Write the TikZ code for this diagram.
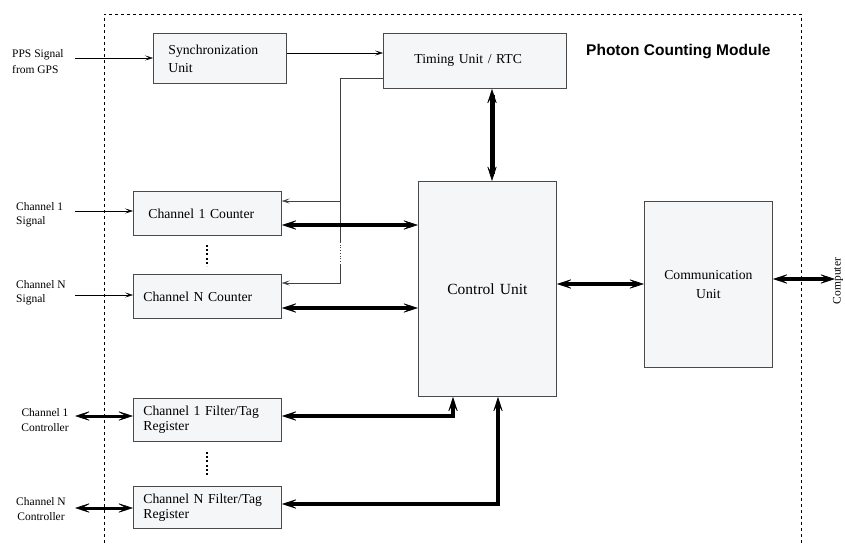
\documentclass[tikz,border=0pt]{standalone}
\usepackage{fontspec}
\setmainfont{Liberation Serif}
\newfontfamily\headfont{Liberation Sans}
\usetikzlibrary{arrows.meta,calc}
\definecolor{boxfill}{HTML}{F5F6F8}
\definecolor{boxline}{HTML}{4A4A4A}
\tikzset{
  bigtip/.tip={Stealth[length=17pt,width=11pt,inset=10pt,line width=0.6pt]},
  smalltip/.tip={Stealth[length=8pt,width=5pt,inset=4pt,line width=0.4pt]},
  box/.style={draw=boxline,fill=boxfill,line width=0.8pt,inner ysep=0pt,anchor=north west,align=left,
    font=\fontsize{13.7}{18}\selectfont},
  lbl/.style={font=\fontsize{11.5}{15}\selectfont,inner sep=0pt},
  sig/.style={line width=0.7pt,-smalltip},
  feed/.style={line width=0.7pt,draw=black!75},
  bus/.style={line width=4pt,bigtip-bigtip},
  ctl/.style={line width=3pt,bigtip-bigtip},
  vdots/.style={line width=1.6pt,dash pattern=on 2pt off 2.2pt},
  frame/.style={line width=0.7pt,dash pattern=on 3pt off 3pt}
}
\begin{document}
\begin{tikzpicture}[x=1pt,y=-1pt]
\useasboundingbox (0,0) rectangle (845,543);

% module frame
\draw[frame] (104,543) -- (104,14) -- (801,14) -- (801,543);
\node[font=\headfont\bfseries\fontsize{15.5}{18}\selectfont,anchor=west,inner sep=0pt] (title) at (586,52) {Photon Counting Module};

% boxes
\node[box,minimum height=50pt,text width=103pt,inner xsep=15pt] (sync) at (153,33) {Synchronization\\Unit};
\node[box,minimum height=55pt,text width=121pt,inner xsep=31pt] (timing) at (383,33) {Timing Unit / RTC};
\node[box,minimum height=44pt,text width=118pt,inner xsep=15pt] (ch1) at (133,191) {Channel 1 Counter};
\node[box,minimum height=44pt,text width=128pt,inner xsep=10pt] (chN) at (133,274) {Channel N Counter};
\node[box,minimum height=43pt,text width=128pt,inner xsep=10pt,font=\fontsize{13.7}{15}\selectfont] (f1) at (133,398) {Channel 1 Filter/Tag\\Register};
\node[box,minimum height=42pt,text width=128pt,inner xsep=10pt,font=\fontsize{13.7}{15}\selectfont] (fN) at (133,486) {Channel N Filter/Tag\\Register};
\node[box,align=center,minimum height=215pt,text width=138pt,inner xsep=0pt,font=\fontsize{15.5}{18}\selectfont] (control) at (418,181) {Control Unit};
\node[box,align=center,minimum height=166pt,text width=128pt,inner xsep=0pt,font=\fontsize{13.7}{19}\selectfont] (comm) at (644,201) {Communication\\Unit};

% outside labels
\node[lbl,anchor=west,align=left,font=\fontsize{11.5}{16}\selectfont] (pps) at (12,62) {PPS Signal\\from GPS};
\node[lbl,anchor=west,align=left,font=\fontsize{11.5}{14}\selectfont] (c1s) at (16,215) {Channel 1\\Signal};
\node[lbl,anchor=west,align=left,font=\fontsize{11.5}{14}\selectfont] (cNs) at (16,292.5) {Channel N\\Signal};
\node[lbl,align=center] (c1c) at (45,420.5) {Channel 1\\Controller};
\node[lbl,align=center] (cNc) at (41,509.5) {Channel N\\Controller};
\node[lbl,rotate=90] (comp) at (838,281) {Computer};

% coordinates for free ends and bends
\coordinate (ppsin) at (75,58);
\coordinate (s1in) at (75,211);
\coordinate (sNin) at (75,295);
\coordinate (k1) at (75,416);
\coordinate (kN) at (75,508);
\coordinate (st) at (0,53);
\coordinate (tx) at (340,78);
\coordinate (g1) at (340,242);
\coordinate (g2) at (340,265);
\coordinate (a1) at (340,201);
\coordinate (aN) at (340,283);
\coordinate (b1) at (0,225);
\coordinate (bN) at (0,308);
\coordinate (bc) at (0,284);
\coordinate (bo) at (835,279);
\coordinate (tcx) at (492,0);
\coordinate (f1c) at (453,416);
\coordinate (fNc) at (498,504);

% thin signal connectors
\draw[sig] (ppsin) -- (ppsin -| sync.west);
\draw[sig] (st -| sync.east) -- (st -| timing.west);
\draw[sig] (s1in) -- (s1in -| ch1.west);
\draw[sig] (sNin) -- (sNin -| chN.west);

% timing feed to counters
\draw[feed] (tx -| timing.west) -- (tx) -- (g1);
\draw[feed,dotted] (g1) -- (g2);
\draw[feed,-smalltip] (g2) -- (aN) -- (aN -| chN.east);
\draw[feed,-smalltip] (a1) -- (a1 -| ch1.east);

% buses
\draw[bus,line width=5pt] (tcx |- timing.south) -- (tcx |- control.north);
\draw[bus] (b1 -| ch1.east) -- (b1 -| control.west);
\draw[bus] (bN -| chN.east) -- (bN -| control.west);
\draw[bus] (bc -| control.east) -- (bc -| comm.west);
\draw[bus] (bo -| comm.east) -- (bo);
\draw[bus] (f1c -| f1.east) -- (f1c) -- (f1c |- control.south);
\draw[bus] (fNc -| fN.east) -- (fNc) -- (fNc |- control.south);
\draw[ctl] (k1) -- (k1 -| f1.west);
\draw[ctl] (kN) -- (kN -| fN.west);

% vertical dots
\coordinate (d1a) at (207,245);
\coordinate (d1b) at (207,266);
\coordinate (d2a) at (207,452);
\coordinate (d2b) at (207,476);
\draw[vdots] (d1a) -- (d1b);
\draw[vdots] (d2a) -- (d2b);
\end{tikzpicture}
\end{document}
